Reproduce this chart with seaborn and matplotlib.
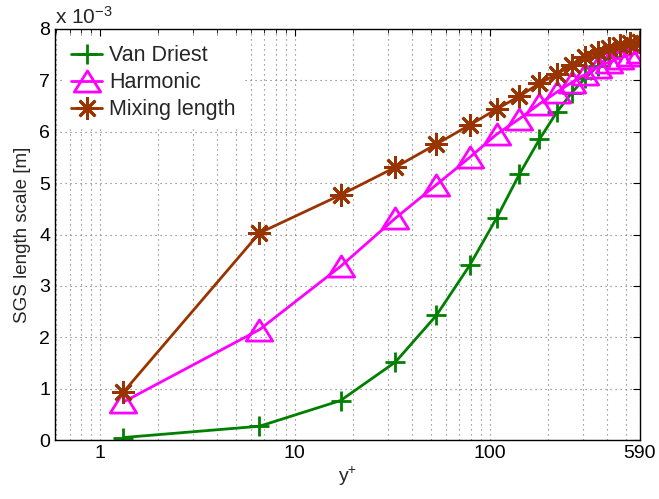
import matplotlib
matplotlib.use("Agg")
import matplotlib.pyplot as plt
import seaborn as sns
import numpy as np
import pandas as pd
from matplotlib.ticker import FixedLocator, NullFormatter, LogLocator
from matplotlib.path import Path

yplus = [1.32, 6.6, 17.2, 32.9, 53.4, 79, 108.6, 142, 180, 221, 264, 310, 360, 412, 468, 528, 590]
van_driest = [0.05, 0.27, 0.77, 1.52, 2.43, 3.40, 4.32, 5.17, 5.85, 6.38, 6.76, 7.05, 7.28, 7.45, 7.57, 7.66, 7.72]
harmonic = [0.74, 2.15, 3.38, 4.32, 4.97, 5.50, 5.95, 6.25, 6.54, 6.77, 6.96, 7.12, 7.26, 7.36, 7.44, 7.50, 7.55]
mixing = [0.93, 4.03, 4.77, 5.31, 5.76, 6.13, 6.44, 6.69, 6.94, 7.12, 7.30, 7.45, 7.55, 7.62, 7.68, 7.72, 7.75]
series_names = ["Van Driest", "Harmonic", "Mixing length"]
xticks = [1, 10, 100, 590]
xtick_labels = ["1", "10", "100", "590"]

sns.set_theme(style="white")
plt.rcParams['font.family'] = ['Liberation Sans', 'DejaVu Sans']
plt.rcParams['mathtext.fontset'] = 'custom'
plt.rcParams['mathtext.rm'] = 'Liberation Sans'
plt.rcParams['mathtext.it'] = 'Liberation Sans'

rows = []
for name, vals in zip(series_names, [van_driest, harmonic, mixing]):
    for x, v in zip(yplus, vals):
        rows.append({"y+": x, "L": v, "model": name})
df = pd.DataFrame(rows)

fig = plt.figure(figsize=(6.59, 4.99), dpi=100)
ax = fig.add_axes([0.0835, 0.118, 0.8875, 0.824])

tri = Path([(-1.0, -0.8), (1.0, -0.8), (0.0, 0.8), (-1.0, -0.8)],
           [Path.MOVETO, Path.LINETO, Path.LINETO, Path.CLOSEPOLY])

colors = {"Van Driest": "#007f00", "Harmonic": "#ff00ff", "Mixing length": "#993300"}
markers = {"Van Driest": "+", "Harmonic": tri, "Mixing length": (8, 2, 0)}
msizes = {"Van Driest": 15, "Harmonic": 19, "Mixing length": 16}

for name in series_names:
    sub = df[df["model"] == name]
    sns.lineplot(data=sub, x="y+", y="L", ax=ax, color=colors[name], linewidth=2,
                 marker=markers[name], markersize=msizes[name], markeredgewidth=2,
                 markerfacecolor='none', markeredgecolor=colors[name], label=name,
                 estimator=None, sort=False)

ax.set_xscale("log")
ax.set_xlim(0.59, 590)
ax.set_ylim(0, 8)
ax.xaxis.set_major_locator(FixedLocator(xticks))
ax.set_xticklabels(xtick_labels)
ax.xaxis.set_minor_locator(LogLocator(base=10, subs=np.arange(2, 10)))
ax.xaxis.set_minor_formatter(NullFormatter())
ax.set_yticks(range(0, 9))

gkw = dict(linestyle=(0, (1, 3.5)), color='#707070', linewidth=0.8)
ax.grid(True, which='major', axis='both', **gkw)
ax.grid(True, which='minor', axis='x', **gkw)
ax.tick_params(axis='both', which='both', direction='in', top=True, right=True,
               labelsize=14, colors='black')
ax.tick_params(which='major', length=5, width=0.8)
ax.tick_params(which='minor', length=3, width=0.6)
for s in ax.spines.values():
    s.set_color('black')
    s.set_linewidth(1.0)

ax.set_xlabel("y$^{+}$", fontsize=14, labelpad=2)
ax.set_ylabel("SGS length scale [m]", fontsize=13.5, labelpad=6)
ax.text(0.0, 1.003, "x 10$^{-3}$", transform=ax.transAxes, fontsize=15,
        ha='left', va='bottom')

leg = ax.legend(loc='upper left', fontsize=15.5, frameon=True, fancybox=False,
                handlelength=1.45, handletextpad=0.3, borderaxespad=0.4,
                labelspacing=0.28, borderpad=0.35)
leg.get_frame().set_facecolor('white')
leg.get_frame().set_edgecolor('white')
leg.get_frame().set_alpha(1)

fig.savefig("out.png", dpi=100)
